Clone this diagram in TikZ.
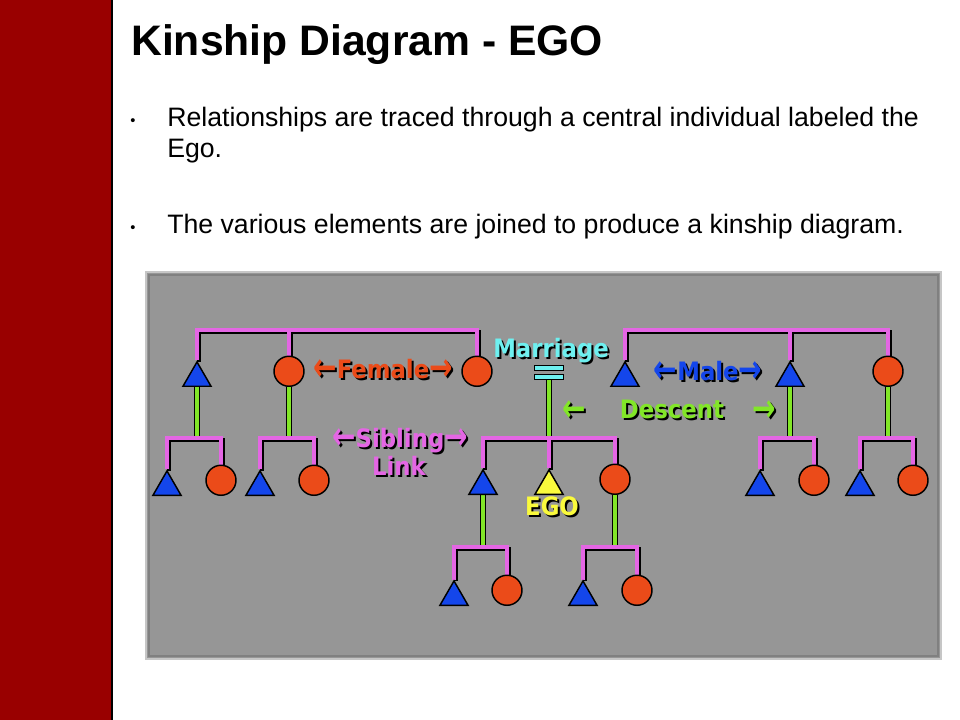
\documentclass[tikz,border=0pt]{standalone}
\usepackage{fontspec}
\setmainfont{Liberation Sans}
\newfontfamily\kinfont{DejaVu Sans Condensed}
\newfontfamily\kinarrows{DejaVu Sans}
\usetikzlibrary{shapes.geometric}

\definecolor{barred}{RGB}{153,0,0}
\definecolor{panelgray}{RGB}{150,150,150}
\definecolor{kinblue}{RGB}{20,70,235}
\definecolor{kinorange}{RGB}{235,75,25}
\definecolor{kinpink}{RGB}{228,102,228}
\definecolor{kingreen}{RGB}{130,230,40}
\definecolor{kincyan}{RGB}{110,240,240}
\definecolor{kinyellow}{RGB}{250,250,60}

\pgfdeclarelayer{back}
\pgfdeclarelayer{background}
\pgfsetlayers{back,background,main}

\tikzset{
  male/.style={regular polygon, regular polygon sides=3, minimum size=24.3pt, inner sep=0pt,
    fill=kinblue, draw=black, line width=1.1pt, anchor=south},
  female/.style={circle, minimum size=22.5pt, inner sep=0pt, fill=kinorange, draw=black,
    line width=1.1pt, anchor=south},
  egonode/.style={male, fill=kinyellow},
  sib/.style={kinpink, line width=3.4pt,
    preaction={draw=black, line width=3.4pt, transform canvas={shift={(1.4pt,-1.4pt)}}}},
  desc/.style={draw=black, line width=0.8pt, double=kingreen, double distance=3pt},
  lbl/.style={font=\kinfont\bfseries\fontsize{19}{21}\selectfont, inner sep=0pt, anchor=base},
  eqbar/.style={rectangle, minimum width=21.75pt, minimum height=3.75pt, inner sep=0pt,
    fill=kincyan, draw=black, line width=0.8pt},
}

% coloured label with a black drop shadow
\newcommand{\shadowlabel}[4]{%
  \node[lbl, text=black] (#1-sh) at ([shift={(2,2)}]#2) {#4};
  \node[lbl, text=#3] (#1) at (#2) {#4};
}
\newcommand{\kinlarr}{\raisebox{-2pt}{\scalebox{1.05}[1.45]{\kinarrows\fontsize{20}{20}\selectfont ←}}}
\newcommand{\kinrarr}{\raisebox{-2pt}{\scalebox{1.05}[1.45]{\kinarrows\fontsize{20}{20}\selectfont →}}}

\begin{document}
\begin{tikzpicture}[x=0.75pt,y=-0.75pt]
\useasboundingbox (0,0) rectangle (960,720);

% slide
\fill[barred] (0,0) rectangle (112,720);
\draw[black, line width=1.5pt] (112,0) -- (112,720);
\node[anchor=base west, inner sep=0pt, font=\bfseries\fontsize{32}{36}\selectfont] (title) at (131,56) {Kinship Diagram - EGO};
\node[anchor=base, inner sep=0pt, font=\fontsize{11}{13}\selectfont] (dot1) at (133,126) {•};
\node[anchor=base west, inner sep=0pt, align=left, font=\fontsize{20}{23.25}\selectfont] (point1) at (167,158)
  {Relationships are traced through a central individual labeled the\\Ego.};
\node[anchor=base, inner sep=0pt, font=\fontsize{11}{13}\selectfont] (dot2) at (133,233) {•};
\node[anchor=base west, inner sep=0pt, font=\fontsize{20}{23.25}\selectfont] (point2) at (167,234)
  {The various elements are joined to produce a kinship diagram.};

% panel
\begin{pgfonlayer}{back}
  \fill[panelgray] (145,271) rectangle (942,660);
  \draw[gray!45, line width=1.5pt] (146,272) rectangle (941,659);
  \draw[black!50, line width=1pt] (149,275) rectangle (938,656);
\end{pgfonlayer}

% left family
\node[male] (lm1) at (197,387) {};
\node[female] (lf1) at (289,387) {};
\node[female] (lf2) at (477,387) {};
\node[male] (lm2) at (167,496) {};
\node[female] (lf3) at (221,496) {};
\node[male] (lm3) at (260,496) {};
\node[female] (lf4) at (314,496) {};

% ego and siblings
\node[eqbar] (eqtop) at (549,368) {};
\node[eqbar] (eqbot) at (549,377) {};
\node[male] (bro) at (483,495) {};
\node[egonode] (ego) at (549,495) {};
\node[female] (sis) at (615,495) {};
\node[male] (nm) at (454,606) {};
\node[female] (nf) at (507,606) {};
\node[male] (sm) at (583,606) {};
\node[female] (sf) at (637,606) {};

% right family
\node[male] (rm1) at (625,387) {};
\node[male] (rm2) at (790,387) {};
\node[female] (rf1) at (888,387) {};
\node[male] (rm3) at (760,496) {};
\node[female] (rf2) at (814,496) {};
\node[male] (rm4) at (860,496) {};
\node[female] (rf3) at (913,496) {};

\coordinate (topbar) at (0,330);
\coordinate (sibbar) at (0,438);
\coordinate (lowbar) at (0,547);

\begin{pgfonlayer}{background}
  % descent
  \draw[desc] (lm1.south) -- (lm1.south |- sibbar);
  \draw[desc] (lf1.south) -- (lf1.south |- sibbar);
  \draw[desc] (eqbot.south) -- (eqbot.south |- sibbar);
  \draw[desc] (bro.south) -- (bro.south |- lowbar);
  \draw[desc] (sis.south) -- (sis.south |- lowbar);
  \draw[desc] (rm2.south) -- (rm2.south |- sibbar);
  \draw[desc] (rf1.south) -- (rf1.south |- sibbar);
  % sibling links
  \draw[sib] (lm1.north) |- (topbar -| lf2.north) -- (lf2.north);
  \draw[sib] (lf1.north) -- (lf1.north |- topbar);
  \draw[sib] (lm2.north) |- (sibbar -| lf3.north) -- (lf3.north);
  \draw[sib] (lm3.north) |- (sibbar -| lf4.north) -- (lf4.north);
  \draw[sib] (bro.north) |- (sibbar -| sis.north) -- (sis.north);
  \draw[sib] (ego.north) -- (ego.north |- sibbar);
  \draw[sib] (nm.north) |- (lowbar -| nf.north) -- (nf.north);
  \draw[sib] (sm.north) |- (lowbar -| sf.north) -- (sf.north);
  \draw[sib] (rm1.north) |- (topbar -| rf1.north) -- (rf1.north);
  \draw[sib] (rm2.north) -- (rm2.north |- topbar);
  \draw[sib] (rm3.north) |- (sibbar -| rf2.north) -- (rf2.north);
  \draw[sib] (rm4.north) |- (sibbar -| rf3.north) -- (rf3.north);
\end{pgfonlayer}

% labels
\shadowlabel{female}{383,378}{kinorange}{\kinlarr Female\kinrarr}
\shadowlabel{marriage}{551,357}{kincyan}{Marriage}
\shadowlabel{male}{708,380}{kinblue}{\kinlarr Male\kinrarr}
\shadowlabel{descent}{672,418}{kingreen}{Descent}
\shadowlabel{descl}{574,419}{kingreen}{\kinlarr}
\shadowlabel{descr}{764,419}{kingreen}{\kinrarr}
\shadowlabel{sibling}{400,447}{kinpink}{\kinlarr Sibling\kinrarr}
\shadowlabel{link}{399,475}{kinpink}{Link}
\shadowlabel{egolbl}{552,515}{kinyellow}{EGO}
\end{tikzpicture}
\end{document}
